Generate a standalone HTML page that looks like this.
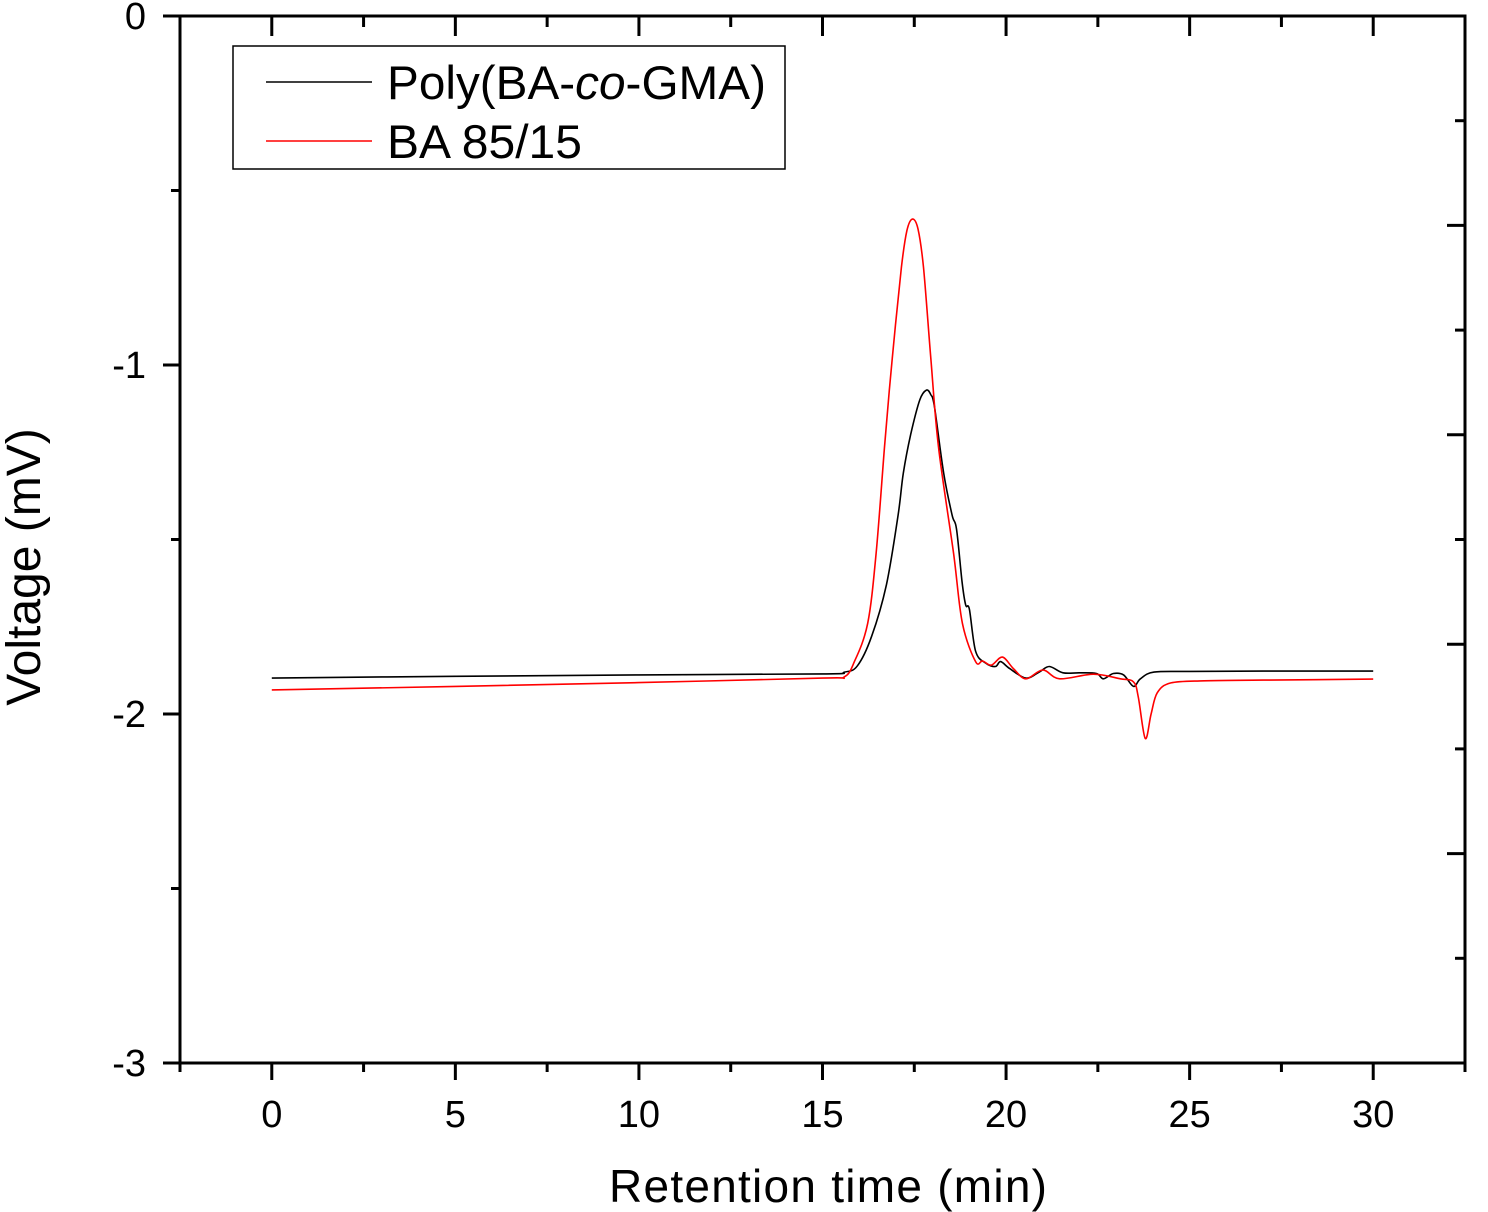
<!DOCTYPE html>
<html><head><meta charset="utf-8"><style>
html,body{margin:0;padding:0;background:#fff;}
svg{display:block;font-family:"Liberation Sans",Arial,sans-serif;}
</style></head><body>
<svg id="chart" width="1488" height="1212" viewBox="0 0 1488 1212" xmlns="http://www.w3.org/2000/svg">
<g id="curves"></g>
<rect x="180" y="16" width="1285" height="1047" fill="none" stroke="#000" stroke-width="3"/>
<g id="ticks"></g>
<text x="828" y="1202" font-size="46" text-anchor="middle" textLength="438" lengthAdjust="spacing">Retention  time  (min)</text>
<text transform="translate(40,567) rotate(-90)" font-size="48" text-anchor="middle">Voltage (mV)</text>
<g>
<rect x="233" y="46" width="552" height="123" fill="#fff" stroke="#000" stroke-width="1.5"/>
<line x1="266" y1="82" x2="372" y2="82" stroke="#000" stroke-width="1.5"/>
<text x="387" y="99" font-size="47" textLength="379" lengthAdjust="spacingAndGlyphs">Poly(BA-<tspan font-style="italic">co</tspan>-GMA)</text>
<line x1="266" y1="141" x2="372" y2="141" stroke="#f00" stroke-width="1.5"/>
<text x="387" y="158" font-size="47" textLength="195" lengthAdjust="spacingAndGlyphs">BA 85/15</text>
</g>
</svg>
<script>
const xTicks = [0,5,10,15,20,25,30];
const yTicks = [0,-1,-2,-3];
const blackX = [0,5,10,15,15.6,15.95,16.33,16.74,17.06,17.2,17.4,17.65,17.83,17.95,18.05,18.3,18.53,18.65,18.8,18.9,19.0,19.17,19.44,19.71,19.85,20.1,20.54,20.9,21.18,21.55,22.0,22.46,22.65,22.92,23.2,23.47,23.66,24.03,25,27,30];
const blackY = [-1.897,-1.892,-1.888,-1.885,-1.88,-1.862,-1.78,-1.63,-1.43,-1.31,-1.2,-1.1,-1.072,-1.085,-1.12,-1.31,-1.43,-1.47,-1.62,-1.688,-1.70,-1.82,-1.854,-1.864,-1.85,-1.87,-1.897,-1.88,-1.864,-1.882,-1.882,-1.884,-1.899,-1.884,-1.888,-1.921,-1.899,-1.88,-1.878,-1.877,-1.877];
const redX = [0,5,10,15,15.59,15.87,16.23,16.46,16.69,16.9,17.15,17.3,17.45,17.6,17.75,17.95,18.16,18.57,18.81,19.17,19.36,19.6,19.9,20.2,20.54,21.0,21.46,22.38,23.11,23.47,23.6,23.79,23.95,24.12,24.49,25.4,27,30];
const redY = [-1.931,-1.921,-1.91,-1.897,-1.894,-1.85,-1.74,-1.54,-1.235,-0.98,-0.72,-0.615,-0.582,-0.61,-0.72,-0.98,-1.235,-1.54,-1.74,-1.85,-1.848,-1.86,-1.837,-1.87,-1.899,-1.874,-1.899,-1.886,-1.899,-1.908,-1.95,-2.07,-2.0,-1.939,-1.911,-1.905,-1.903,-1.900];
const X0=180,X1=1465,Y0=16,Y1=1063,XMIN=-2.5,XMAX=32.5,YMIN=-3,YMAX=0;
const sx=v=>X0+(v-XMIN)/(XMAX-XMIN)*(X1-X0);
const sy=v=>Y0+(YMAX-v)/(YMAX-YMIN)*(Y1-Y0);
const NS="http://www.w3.org/2000/svg";
const curves=document.getElementById('curves');
const ticks=document.getElementById('ticks');
function mk(tag,attrs,parent){const e=document.createElementNS(NS,tag);for(const k in attrs)e.setAttribute(k,attrs[k]);parent.appendChild(e);return e;}
function drawLine(xs,ys,color,name){
  const P=xs.map((x,i)=>[sx(x),sy(ys[i])]);
  let d='M'+P[0][0].toFixed(1)+' '+P[0][1].toFixed(1);
  for(let i=0;i<P.length-1;i++){
    const p0=P[Math.max(0,i-1)],p1=P[i],p2=P[i+1],p3=P[Math.min(P.length-1,i+2)];
    const c1=[p1[0]+(p2[0]-p0[0])/6,p1[1]+(p2[1]-p0[1])/6];
    const c2=[p2[0]-(p3[0]-p1[0])/6,p2[1]-(p3[1]-p1[1])/6];
    d+=' C'+c1[0].toFixed(1)+' '+c1[1].toFixed(1)+' '+c2[0].toFixed(1)+' '+c2[1].toFixed(1)+' '+p2[0].toFixed(1)+' '+p2[1].toFixed(1);
  }
  const p=mk('path',{d:d,fill:'none',stroke:color,'stroke-width':1.6,'stroke-linejoin':'round'},curves);
  
  
}
drawLine(blackX,blackY,'#000','series-poly-ba-co-gma');
drawLine(redX,redY,'#f00','series-ba-85-15');
for(let v=XMIN;v<=XMAX+1e-9;v+=2.5){
  const major=xTicks.includes(v);
  const x=sx(v);
  const t=mk('line',{x1:x,y1:Y1,x2:x,y2:Y1+(major?17:9),stroke:'#000','stroke-width':3},ticks);
  
  
  const t2=mk('line',{x1:x,y1:Y0,x2:x,y2:Y0+(major?20:11),stroke:'#000','stroke-width':3},ticks);
  
  
}
xTicks.forEach(v=>{
  const t=mk('text',{x:sx(v),y:1127,'font-size':38,'text-anchor':'middle'},ticks);
  t.textContent=v;
  
  
});
for(let v=YMIN;v<=YMAX+1e-9;v+=0.5){
  const major=Math.abs(v-Math.round(v))<1e-9;
  const y=sy(v);
  const t=mk('line',{x1:X0,y1:y,x2:X0-(major?17:9),y2:y,stroke:'#000','stroke-width':3},ticks);
  
  
}
yTicks.forEach(v=>{
  const t=mk('text',{x:146,y:sy(v)+13,'font-size':38,'text-anchor':'end'},ticks);
  t.textContent=v;
  
  
});
for(let i=1;i<=9;i++){
  const v=-0.3*i;
  const y=sy(v);
  const t=mk('line',{x1:X1,y1:y,x2:X1-(i%2===0?18:10),y2:y,stroke:'#000','stroke-width':3},ticks);
  
  
}
</script>
</body></html>
